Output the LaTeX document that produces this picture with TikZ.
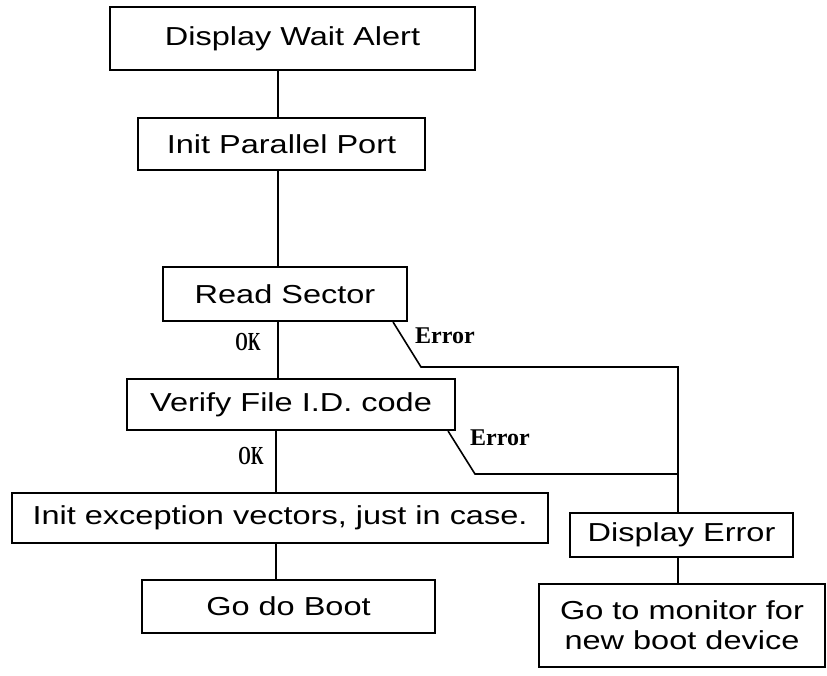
\documentclass[tikz,border=0pt]{standalone}
\usepackage{fontspec}
\setmainfont{Liberation Sans}[FakeStretch=1.25]
\newfontfamily\errfont{Liberation Serif}[BoldFont={* Bold}]
\newfontfamily\okfont{Liberation Serif Bold}[FakeStretch=0.62]

\begin{document}
\begin{tikzpicture}[x=0.5pt, y=-0.5pt]
\tikzset{ box/.style={draw, line width=1.1pt, inner sep=0pt, align=center,
                      font=\fontsize{13}{15}\selectfont},
          line/.style={line width=0.8pt},
          err/.style={font=\errfont\bfseries\fontsize{12}{14}\selectfont},
          ok/.style={font=\okfont\fontsize{13}{15}\selectfont} }

\useasboundingbox (0,0) rectangle (827,676);
%\draw [lightgray, dashed](0,0) grid[step=50] (827,676);

\node [box, minimum width=182.5pt, minimum height=31.5pt] (Alert)   at (292.5,38.5) {Display Wait Alert};
\node [box, minimum width=143.5pt, minimum height=26pt]   (Port)    at (281.5,144)  {Init Parallel Port};
\node [box, minimum width=122pt,   minimum height=27pt]   (Read)    at (285,294)    {Read Sector};
\node [box, minimum width=164pt,   minimum height=25.5pt] (Verify)  at (291,404.5)  {Verify File I.D. code};
\node [box, minimum width=268pt,   minimum height=25pt]   (Vectors) at (280,518)    {Init exception vectors, just in case.};
\node [box, minimum width=146.5pt, minimum height=26.5pt] (Boot)    at (288.5,606.5) {Go do Boot};

\node [box, minimum width=111.5pt, minimum height=22pt]   (Err)     at (681.5,535)  {Display Error};
\node [box, minimum width=143pt,   minimum height=41.5pt] (Monitor) at (682,625.5)  {Go to monitor for\\new boot device};

\coordinate (spine) at (278,0);
\coordinate (errx)  at (678,0);
\coordinate (E1) at (421,367);
\coordinate (E2) at (475,474);

\draw [line] (Alert.south -| spine)   -- (Port.north -| spine);
\draw [line] (Port.south -| spine)    -- (Read.north -| spine);
\draw [line] (Read.south -| spine)    -- (Verify.north -| spine);
\draw [line] (Verify.south -| 276,0)  -- (Vectors.north -| 276,0);
\draw [line] (Vectors.south -| 276,0) -- (Boot.north -| 276,0);

\draw [line] (Read.south east) ++(-15,0) -- (E1) -- (E1 -| errx) -- (Err.north -| errx);
\draw [line] (Verify.south east) ++(-8,0) -- (E2) -- (E2 -| errx);
\draw [line] (Err.south -| errx) -- (Monitor.north -| errx);

\node [ok]  at (248,342) {OK};
\node [ok]  at (251,456) {OK};
\node [err] at (445,336) {Error};
\node [err] at (500,438) {Error};

\end{tikzpicture}
\end{document}
